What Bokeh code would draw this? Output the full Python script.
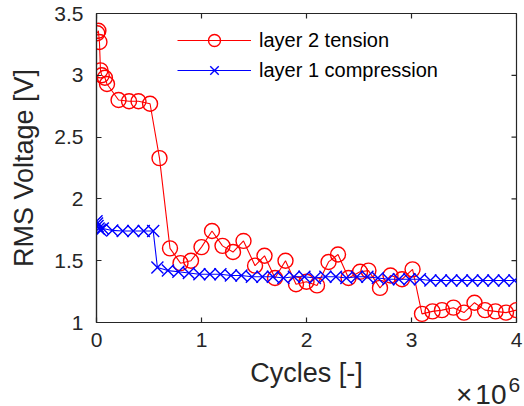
from bokeh.plotting import figure
from bokeh.layouts import column
from bokeh.models import Range1d, FixedTicker, Legend, LegendItem, Div, InlineStyleSheet
from bokeh.embed import file_html
from bokeh.resources import INLINE

# Cycles (in units of 10^6)
red_x = [0.007, 0.018, 0.028, 0.038, 0.05, 0.08, 0.10, 0.21, 0.31, 0.40, 0.51,
         0.60, 0.70, 0.80, 0.90, 1.00, 1.10, 1.20, 1.30, 1.40, 1.51,
         1.60, 1.70, 1.80, 1.90, 2.00, 2.10, 2.21, 2.30, 2.40, 2.51,
         2.59, 2.70, 2.80, 2.91, 3.01, 3.10, 3.20, 3.29, 3.40, 3.50,
         3.60, 3.70, 3.80, 3.90, 4.00]
red_y = [3.34, 3.36, 3.27, 3.04, 3.00, 2.98, 2.93, 2.80, 2.79, 2.79, 2.77,
         2.33, 1.60, 1.48, 1.50, 1.61, 1.74, 1.62, 1.57, 1.66, 1.46,
         1.54, 1.36, 1.50, 1.31, 1.33, 1.30, 1.49, 1.55, 1.36, 1.41,
         1.42, 1.28, 1.38, 1.35, 1.43, 1.07, 1.09, 1.10, 1.12, 1.08,
         1.16, 1.10, 1.09, 1.08, 1.10]

blue_x = [0.0, 0.005, 0.01, 0.02, 0.035, 0.06, 0.15, 0.25, 0.35, 0.45, 0.54,
          0.58, 0.68, 0.78, 0.88, 0.98, 1.08, 1.18, 1.28, 1.38, 1.48,
          1.58, 1.68, 1.78, 1.88, 1.98, 2.08, 2.18, 2.28, 2.38, 2.48,
          2.58, 2.68, 2.78, 2.88, 2.98, 3.08, 3.18, 3.28, 3.38, 3.48,
          3.58, 3.68, 3.78, 3.88, 3.98]
blue_y = [1.82, 1.80, 1.78, 1.76, 1.75, 1.76, 1.745, 1.74, 1.74, 1.74, 1.74,
          1.445, 1.42, 1.41, 1.40, 1.39, 1.39, 1.39, 1.38, 1.38, 1.37,
          1.37, 1.37, 1.36, 1.37, 1.37, 1.36, 1.37, 1.37, 1.36, 1.37,
          1.37, 1.36, 1.35, 1.35, 1.35, 1.35, 1.34, 1.34, 1.34, 1.34,
          1.34, 1.34, 1.34, 1.34, 1.34]

x_ticks = [0, 1, 2, 3, 4]
y_ticks = [1, 1.5, 2, 2.5, 3, 3.5]
series_names = ["layer 2 tension", "layer 1 compression"]
x_exponent = "6"

AX = "#262626"
FONT = "Liberation Sans"
X0, X1 = 0, 4
Y0, Y1 = 1, 3.5

p = figure(width=524, height=406, output_backend="svg", toolbar_location=None,
           x_range=Range1d(X0, X1), y_range=Range1d(Y0, Y1),
           min_border_left=96, min_border_right=8, min_border_top=13, min_border_bottom=84)
p.grid.visible = False
p.outline_line_color = AX
p.outline_line_width = 1.2
p.background_fill_color = "white"
p.border_fill_color = "white"

def style_axis(ax, ticks):
    ax.ticker = FixedTicker(ticks=ticks)
    ax.axis_line_color = AX
    ax.axis_line_width = 1.2
    ax.major_tick_line_color = AX
    ax.major_tick_line_width = 1.2
    ax.major_tick_in = 5
    ax.major_tick_out = 0
    ax.minor_tick_line_color = None
    ax.major_label_text_font = FONT
    ax.major_label_text_color = AX
    ax.major_label_text_font_size = "21px"
    ax.axis_label_text_font = FONT
    ax.axis_label_text_font_style = "normal"
    ax.axis_label_text_color = AX
    ax.axis_label_text_font_size = "27px"

xa = p.xaxis[0]
ya = p.yaxis[0]
style_axis(xa, x_ticks)
style_axis(ya, y_ticks)
xa.major_label_overrides = {t: str(t) for t in x_ticks}
ya.major_label_overrides = {t: ("%g" % t) for t in y_ticks}
xa.axis_label = "Cycles [-]"
ya.axis_label = "RMS Voltage [V]"
xa.major_label_standoff = 10
ya.major_label_standoff = 13
xa.axis_label_standoff = 8
ya.axis_label_standoff = 12

# inward ticks on the top and right edges of the box
p.ray(x=x_ticks, y=[Y1] * len(x_ticks), length=5, length_units="screen",
      angle=-90, angle_units="deg", line_color=AX, line_width=1.2)
p.ray(x=[X1] * len(y_ticks), y=y_ticks, length=5, length_units="screen",
      angle=180, angle_units="deg", line_color=AX, line_width=1.2)

RED = "#FF0000"
BLUE = "#0000FF"

rl = p.line(red_x, red_y, line_color=RED, line_width=1.1)
rs = p.scatter(red_x, red_y, marker="circle", size=15, fill_color=None,
               line_color=RED, line_width=1.4)
bl = p.line(blue_x, blue_y, line_color=BLUE, line_width=1.1)
bs = p.scatter(blue_x, blue_y, marker="x", size=17, line_color=BLUE, line_width=1.4)

legend = Legend(items=[LegendItem(label=series_names[0], renderers=[rl, rs]),
                       LegendItem(label=series_names[1], renderers=[bl, bs])],
                location=(81, 237), orientation="vertical",
                padding=0, margin=0, spacing=0,
                glyph_width=74, glyph_height=30, label_height=30, label_standoff=8,
                label_text_font=FONT, label_text_font_size="20px", label_text_color="black",
                border_line_alpha=0, background_fill_alpha=0)
p.add_layout(legend, "center")

css = InlineStyleSheet(css="""
:host { overflow: visible !important; }
.xm { font-family: "Liberation Sans", sans-serif !important; font-size: 28px !important;
      color: #262626; white-space: nowrap; position: relative; top: 2px; line-height: 26px; }
.xm .tm { margin-right: 3px; }
.xm .ex { font-size: 21px !important; position: relative; top: -12px; margin-left: 2px; }
""")
exp_html = "<span class='xm'><span class='tm'>\u00d7</span>10<span class='ex'>%s</span></span>" % x_exponent
exp_div = Div(text=exp_html, width=70, height=26, margin=(-26, 0, 0, 456),
              stylesheets=[css])

page = column(p, exp_div, spacing=0)
open("out.html", "w").write(file_html(page, INLINE))
